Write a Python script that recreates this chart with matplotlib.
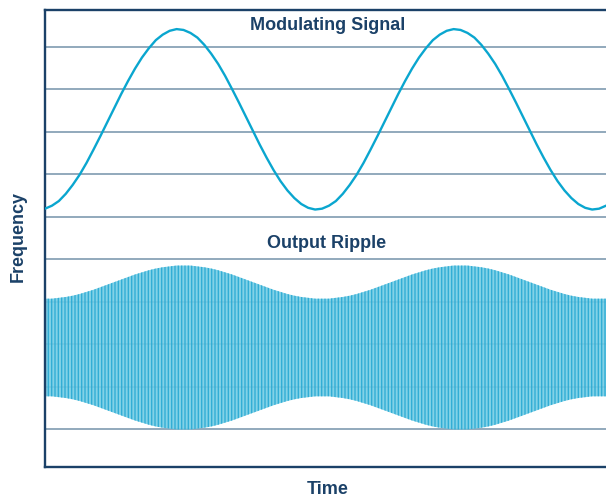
"""
Frequency vs time sketch: the modulating signal on top and the output ripple it produces below.
"""

import matplotlib.pyplot as plt
import numpy as np

# time axis, in periods of the modulating signal
time = np.round(np.arange(0, 2.026, 0.025), 3)

# modulating signal (grid units)
modulating = [6.19, 6.26, 6.37, 6.54, 6.75, 6.99, 7.27, 7.58, 7.90, 8.23,
              8.56, 8.89, 9.20, 9.49, 9.75, 9.97, 10.16, 10.29, 10.38, 10.42,
              10.40, 10.33, 10.22, 10.05, 9.84, 9.60, 9.32, 9.01, 8.69, 8.36,
              8.03, 7.70, 7.39, 7.10, 6.84, 6.62, 6.44, 6.30, 6.21, 6.17,
              6.19, 6.26, 6.37, 6.54, 6.75, 6.99, 7.27, 7.58, 7.90, 8.23,
              8.56, 8.89, 9.20, 9.49, 9.75, 9.97, 10.16, 10.29, 10.38, 10.42,
              10.40, 10.33, 10.22, 10.05, 9.84, 9.60, 9.32, 9.01, 8.69, 8.36,
              8.03, 7.70, 7.39, 7.10, 6.84, 6.62, 6.44, 6.30, 6.21, 6.17,
              6.19, 6.26]

# output ripple: centre level and half height of the envelope
ripple_centre = 2.92
ripple_half = [1.15, 1.15, 1.17, 1.19, 1.22, 1.26, 1.31, 1.36, 1.42, 1.48,
               1.54, 1.60, 1.66, 1.72, 1.77, 1.82, 1.86, 1.89, 1.91, 1.93,
               1.93, 1.93, 1.91, 1.89, 1.86, 1.82, 1.77, 1.72, 1.66, 1.60,
               1.54, 1.48, 1.42, 1.36, 1.31, 1.26, 1.22, 1.19, 1.17, 1.15,
               1.15, 1.15, 1.17, 1.19, 1.22, 1.26, 1.31, 1.36, 1.42, 1.48,
               1.54, 1.60, 1.66, 1.72, 1.77, 1.82, 1.86, 1.89, 1.91, 1.93,
               1.93, 1.93, 1.91, 1.89, 1.86, 1.82, 1.77, 1.72, 1.66, 1.60,
               1.54, 1.48, 1.42, 1.36, 1.31, 1.26, 1.22, 1.19, 1.17, 1.15,
               1.15, 1.15]

grid_levels = list(range(1, 11))

navy = '#1b4168'
curve_blue = '#0aa6cf'

plt.rcParams['font.family'] = ['Liberation Sans', 'DejaVu Sans']
plt.rcParams['hatch.linewidth'] = 1.0

fig = plt.figure(figsize=(6.06, 4.98), dpi=100)
ax = fig.add_axes([45 / 606, 31 / 498, 561 / 606, 457 / 498])

ax.plot(time, modulating, color=curve_blue, lw=1.7, zorder=3)

upper = ripple_centre + np.array(ripple_half)
lower = ripple_centre - np.array(ripple_half)
ax.fill_between(time, lower, upper, facecolor='#74cde5', edgecolor='#2aa9d3',
                hatch='|||||', linewidth=0, alpha=0.9, zorder=2)

ax.set_xlim(0, 2.025)
ax.set_ylim(0.105, 10.87)
ax.set_xticks([])
ax.set_yticks(grid_levels)
ax.set_yticklabels([])
ax.tick_params(axis='y', length=0)
ax.yaxis.grid(True, color='#7f9bb0', lw=1.2, zorder=1)
ax.set_axisbelow(True)

for side in ['left', 'top', 'bottom']:
    ax.spines[side].set_color(navy)
    ax.spines[side].set_linewidth(1.7)
ax.spines['right'].set_visible(False)

ax.text(0.5045, 0.967, 'Modulating Signal', transform=ax.transAxes,
        ha='center', va='center', fontsize=13, fontweight='bold', color=navy)
ax.text(0.502, 0.488, 'Output Ripple', transform=ax.transAxes,
        ha='center', va='center', fontsize=13, fontweight='bold', color=navy)

fig.text(18 / 606, 1 - 236 / 498, 'Frequency', rotation=90, ha='center',
         va='center', fontsize=13, fontweight='bold', color=navy)
fig.text(328 / 606, 1 - 489 / 498, 'Time', ha='center', va='center',
         fontsize=13, fontweight='bold', color=navy)

fig.savefig('out.png', dpi=100)
